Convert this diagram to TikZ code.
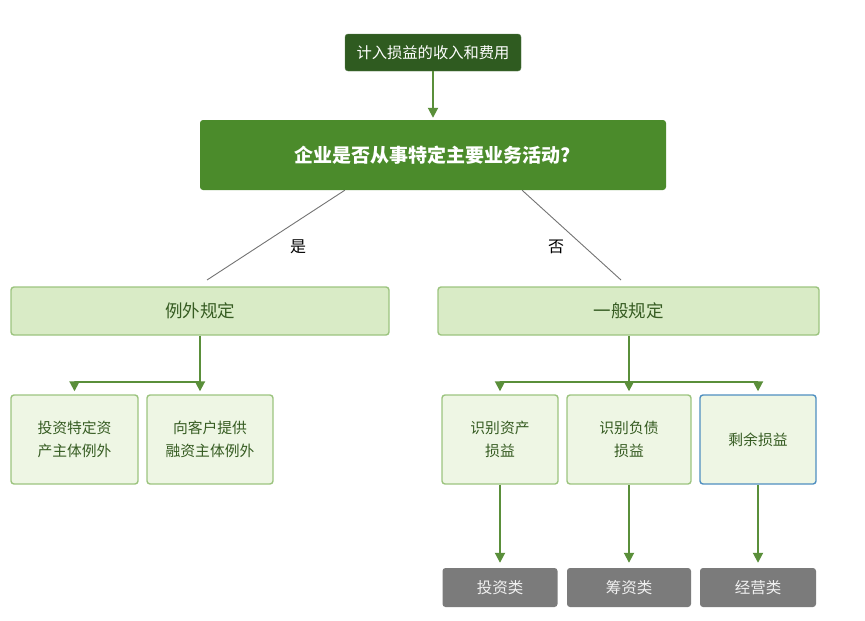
\documentclass[tikz,border=0pt]{standalone}
\usepackage{fontspec}
\setmainfont{Noto Sans CJK SC}
\usetikzlibrary{arrows.meta,calc}
\definecolor{topgreen}{HTML}{2F5B20}
\definecolor{maingreen}{HTML}{4B8B2B}
\definecolor{lightfill}{HTML}{D9EBC6}
\definecolor{paleFill}{HTML}{EEF6E4}
\definecolor{boxline}{HTML}{9CC47F}
\definecolor{txtgreen}{HTML}{365C22}
\definecolor{arrgreen}{HTML}{5A8F3A}
\definecolor{bluebox}{HTML}{4F8FC0}
\definecolor{greyfill}{HTML}{7B7B7B}

\begin{document}
\begin{tikzpicture}[x=1pt, y=-1pt]
\tikzset{every node/.style={align=center, inner sep=0pt},
  topbox/.style={fill=topgreen, draw=topgreen!80, rounded corners=3pt, text=white,
    minimum width=176pt, minimum height=37pt, font=\fontsize{15.3}{18}\selectfont},
  mainbox/.style={fill=maingreen, rounded corners=3pt, text=white,
    minimum width=466pt, minimum height=70pt, font=\fontsize{19}{22}\selectfont\bfseries},
  rulebox/.style={fill=lightfill, draw=boxline, line width=1.4pt, rounded corners=3pt,
    text=txtgreen, minimum height=48pt, font=\fontsize{17.5}{20}\selectfont},
  casebox/.style={fill=paleFill, draw=boxline, line width=1.4pt, rounded corners=3pt,
    text=txtgreen, minimum height=89pt, font=\fontsize{14.8}{23}\selectfont},
  kindbox/.style={fill=greyfill, rounded corners=3pt, text=white!94!black,
    minimum height=39pt, font=\fontsize{15.5}{18}\selectfont},
  arr/.style={draw=arrgreen, line width=1.9pt, -{Triangle[width=10pt,length=10pt]}},
  branch/.style={draw=black!55, line width=0.9pt}}
\useasboundingbox (0,0) rectangle (865,621);

\node[topbox] (top) at (433,52.5) {计入损益的收入和费用};
\node[mainbox] (main) at (433,155) {企业是否从事特定主要业务活动?};

\node[rulebox, minimum width=378pt] (exc) at (200,311) {例外规定};
\node[rulebox, minimum width=381pt] (gen) at (628.5,311) {一般规定};

%% exceptions
\node[casebox, minimum width=127pt] (invest) at (74.5,439.5) {投资特定资\\产主体例外};
\node[casebox, minimum width=126pt] (finance) at (210,439.5) {向客户提供\\融资主体例外};

%% general rule
\node[casebox, minimum width=116pt] (asset) at (500,439.5) {识别资产\\损益};
\node[casebox, minimum width=124pt] (debt) at (629,439.5) {识别负债\\损益};
\node[casebox, minimum width=116pt, draw=bluebox] (rest) at (758,439.5) {剩余损益};

\node[kindbox, minimum width=115pt] (kinv) at (500,587.5) {投资类};
\node[kindbox, minimum width=124pt] (kfin) at (629,587.5) {筹资类};
\node[kindbox, minimum width=116pt] (kop) at (758,587.5) {经营类};

\node[font=\fontsize{16}{18}\selectfont] (yes) at (298,247) {是};
\node[font=\fontsize{16}{18}\selectfont] (no) at (556,247) {否};

\coordinate (yesend) at (207,280);
\coordinate (noend) at (621,280);
\coordinate (excfork) at (200,382);
\coordinate (genfork) at (629,382);

\draw[arr, shorten >=2pt] (top.south) -- (main.north);
\draw[branch] ($(main.south west)!0.311!(main.south east)$) -- (yesend);
\draw[branch] ($(main.south west)!0.691!(main.south east)$) -- (noend);

\draw[arr, shorten >=3pt] (exc.south) -- (exc.south |- finance.north);
\draw[arr, shorten >=3pt] (excfork) -| (invest.north);

\draw[arr, shorten >=3pt] (gen.south -| debt.north) -- (debt.north);
\draw[arr, shorten >=3pt] (genfork) -| (asset.north);
\draw[arr, shorten >=3pt] (genfork) -| (rest.north);

\draw[arr, shorten >=5pt] (asset.south) -- (kinv.north);
\draw[arr, shorten >=5pt] (debt.south) -- (kfin.north);
\draw[arr, shorten >=5pt] (rest.south) -- (kop.north);
\end{tikzpicture}
\end{document}
